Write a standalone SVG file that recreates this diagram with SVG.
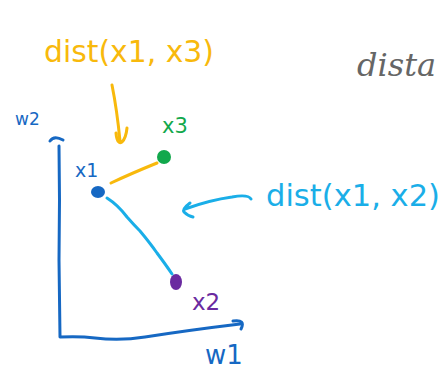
<svg xmlns="http://www.w3.org/2000/svg" width="441" height="370" viewBox="0 0 441 370">
<style>
.ink{fill:none;stroke-width:3;stroke-linecap:round;stroke-linejoin:round}
.hand{font-family:"DejaVu Sans","Liberation Sans",sans-serif;font-weight:normal}
.orange{stroke:#f8b90c}
.cyan{stroke:#1aaee8}
.blue{stroke:#1668c3}
</style>
<rect width="441" height="370" fill="#ffffff"/>
<g id="title">
<text x="357" y="76" font-family="'DejaVu Serif','Liberation Serif',serif" font-style="italic" font-size="32" fill="#666666">dista</text>
</g>
<g id="axes">
<path class="ink blue" d="M50,141 Q54,135 63,140 M59,146 L59.5,200 L59,260 L60,337 Q80,336 95,338 Q120,341 145,337 Q190,330 240,324 M233,321 Q246,319 241,329"/>
<text class="hand" x="15" y="125" font-size="17" fill="#1668c3">w2</text>
<text class="hand" x="205" y="364" font-size="26" fill="#1668c3">w1</text>
</g>
<g id="x1">
<ellipse cx="98" cy="192" rx="7" ry="6" fill="#1668c3"/>
<text class="hand" x="75" y="177" font-size="19" fill="#1668c3">x1</text>
</g>
<g id="x3">
<circle cx="164" cy="157" r="7" fill="#12a84c"/>
<text class="hand" x="162" y="133" font-size="21" fill="#12a84c">x3</text>
</g>
<g id="x2">
<ellipse cx="176" cy="282" rx="6" ry="8" fill="#6a2aa0"/>
<text class="hand" x="192" y="310" font-size="23" fill="#6a2aa0">x2</text>
</g>
<g id="label13">
<text class="hand" x="44" y="62" font-size="30" fill="#f8b90c" textLength="170" lengthAdjust="spacingAndGlyphs">dist(x1, x3)</text>
</g>
<g id="label12">
<text class="hand" x="266" y="206" font-size="30" fill="#1aaee8" textLength="174" lengthAdjust="spacingAndGlyphs">dist(x1, x2)</text>
</g>
<g id="connectors">
<path class="ink orange" d="M111,183 Q130,174 157,163"/>
<path class="ink cyan" d="M107,198 Q118,205 127,217 Q134,225 140,231 Q150,243 157,253 Q166,265 172,274"/>
<path class="ink orange" d="M112,85 Q117,110 120,141 M116,133 Q117,145 122,142 Q126,138 127,128"/>
<path class="ink cyan" d="M251,199 Q248,194 232,197 Q210,200 185,209 M190,203 Q182,209 184,212 Q188,216 193,217"/>
</g>
</svg>
